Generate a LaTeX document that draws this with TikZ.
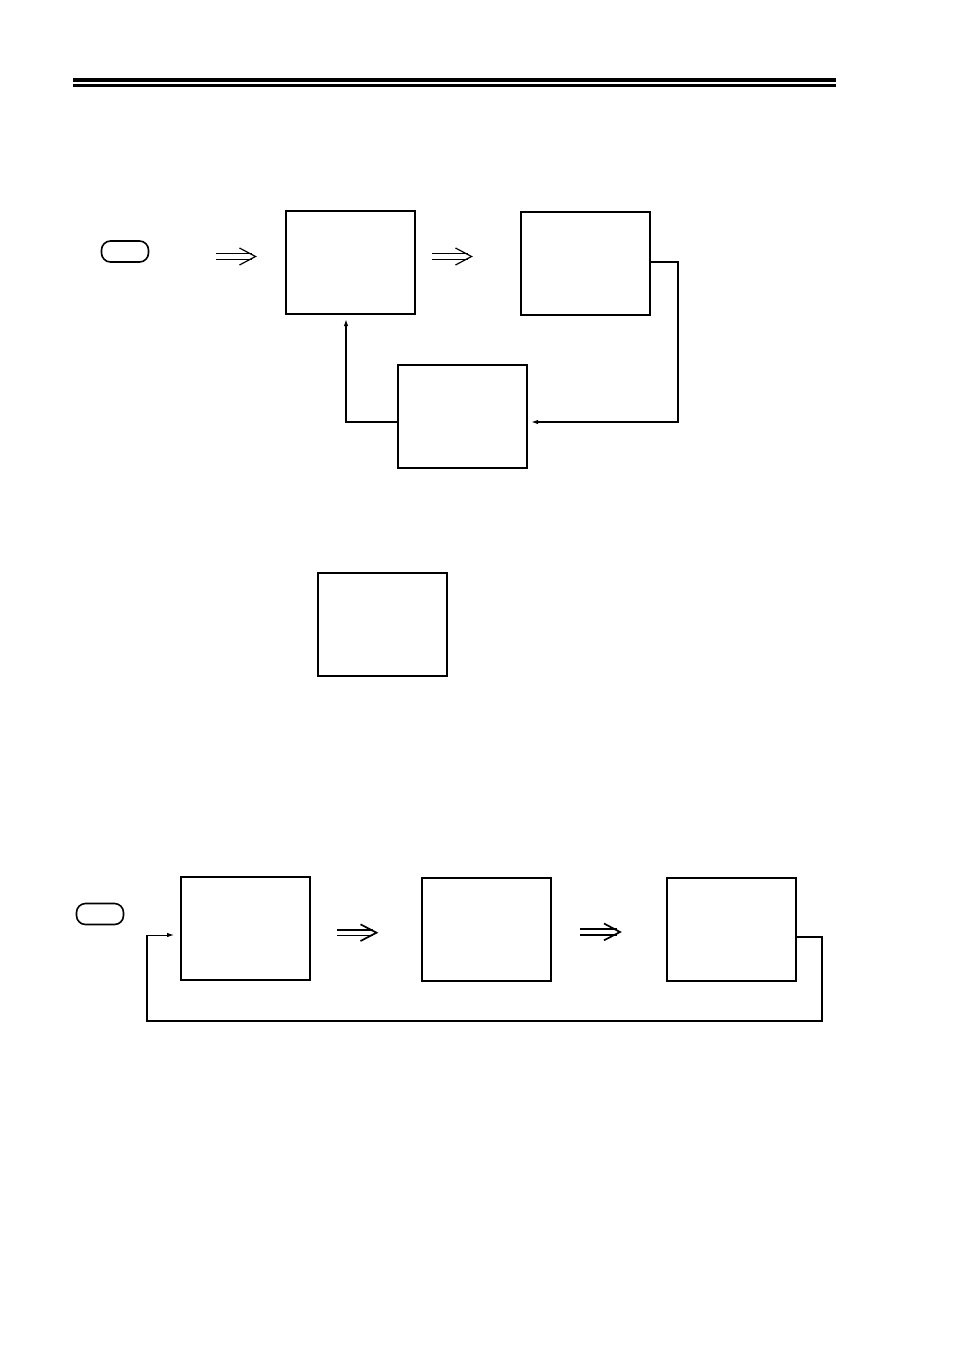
\documentclass[tikz,border=0pt]{standalone}
\usetikzlibrary{arrows.meta,calc}
\begin{document}
\begin{tikzpicture}[x=1pt,y=-1pt,
  box/.style={draw,line width=2pt,minimum width=129pt,minimum height=103pt,inner sep=0pt},
  keybtn/.style={draw,line width=1.6pt,rounded corners=9pt,minimum width=47pt,minimum height=21pt,inner sep=0pt},
  conn/.style={line width=1.8pt},
  thinconn/.style={line width=1.4pt},
  tip/.style={-{Latex[length=7pt,width=4.5pt]}},
  dbl/.style={line width=1.2pt},
  dblb/.style={line width=1.7pt}]
\useasboundingbox (0,0) rectangle (954,1349);
% header rules
\draw[line width=4pt] (73,80.2) -- (836,80.2);
\draw[line width=2.6pt] (73,85.2) -- (836,85.2);
% top section
\node[keybtn] (k1) at (125,251.5) {};
\node[box] (t1) at (350,262.5) {};
\node[box] (t2) at (585.5,263) {};
\node[box] (t3) at (462,416.5) {};
% double arrows (top)
\draw[dbl] (216,253.5) -- (252,253.5) (216,259.3) -- (252,259.3);
\draw[dbl] (239.5,248) -- (255.5,256.5) -- (239.5,265);
\draw[dbl] (432,253.5) -- (468,253.5) (432,259.3) -- (468,259.3);
\draw[dbl] (455.5,248) -- (471.5,256.5) -- (455.5,265);
% feedback loop top
\coordinate (r1) at (678,262);
\coordinate (r2) at (678,422);
\coordinate (r3) at (531,422);
\draw[conn,tip] (t2.east |- r1) -- (r1) -- (r2) -- (r3);
\coordinate (l1) at (346,422);
\coordinate (l2) at (346,319);
\draw[conn,tip] (t3.west |- l1) -- (l1) -- (l2);
% middle box
\node[box] (m1) at (382.5,624.5) {};
% bottom section
\node[keybtn] (k2) at (100,914) {};
\node[box] (b1) at (245.5,928.5) {};
\node[box] (b2) at (486.5,929.5) {};
\node[box] (b3) at (731.5,929.5) {};
\draw[dblb] (337,930) -- (373,930) (337,935.5) -- (373,935.5);
\draw[dblb] (360.5,924.3) -- (376.5,932.7) -- (360.5,941);
\draw[dblb] (580,929.3) -- (616.5,929.3) (580,934.8) -- (616.5,934.8);
\draw[dblb] (604,923.5) -- (620,932) -- (604,940.3);
\coordinate (p1) at (822,937);
\coordinate (p2) at (822,1021);
\coordinate (p3) at (147,1021);
\coordinate (p4) at (147,935);
\coordinate (p5) at (174,935);
\draw[thinconn] (b3.east |- p1) -- (p1) -- (p2) -- (p3) -- (p4);
\draw[line width=1pt,tip] (p4) -- (p5);
\end{tikzpicture}
\end{document}
